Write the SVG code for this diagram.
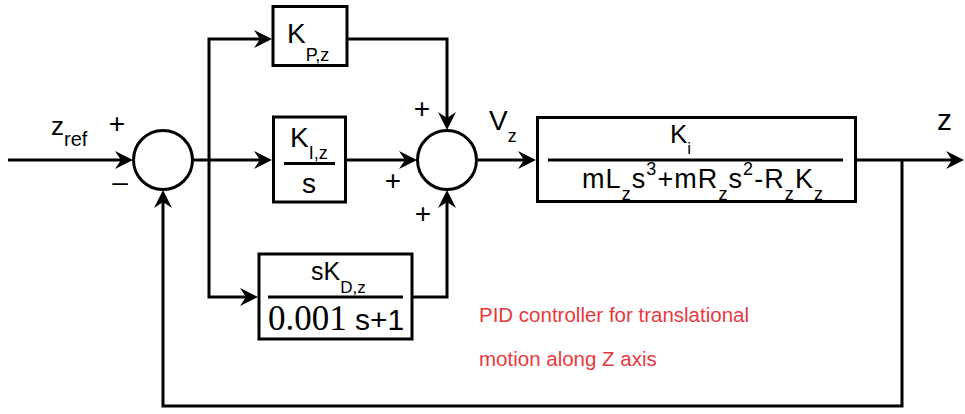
<svg xmlns="http://www.w3.org/2000/svg" width="965" height="414" viewBox="0 0 965 414">
<style>
  .ln { fill: none; stroke: #000; stroke-width: 3; }
  .box { fill: #fff; stroke: #000; stroke-width: 3; }
  .sum { fill: #fff; stroke: #000; stroke-width: 3; }
  .bar { stroke: #000; stroke-width: 3; }
  .t { font-family: "Liberation Sans", Arial, sans-serif; fill: #000; }
  .serif { font-family: "Liberation Serif", "Times New Roman", serif; fill: #000; }
  .sign { font-family: "Liberation Sans", Arial, sans-serif; font-size: 28px; fill: #000; text-anchor: middle; }
  .note { font-family: "Liberation Sans", Arial, sans-serif; font-size: 20.5px; fill: #e8383d; }
</style>
<defs>
  <marker id="ah" viewBox="-19 -10 20 20" refX="-10" refY="0" markerWidth="20" markerHeight="20" markerUnits="userSpaceOnUse" orient="auto">
    <path d="M0,0 L-18,-9 L-12,0 L-18,9 Z" fill="#000"/>
  </marker>
</defs>
<rect width="965" height="414" fill="#fff"/>

<g id="connectors" class="ln">
  <path d="M8,160 H123" marker-end="url(#ah)"/>
  <path d="M192,160 H262" marker-end="url(#ah)"/>
  <path d="M209,160 V39 H262" marker-end="url(#ah)"/>
  <path d="M209,160 V297 H248" marker-end="url(#ah)"/>
  <path d="M347,39 H447 V120" marker-end="url(#ah)"/>
  <path d="M347,160 H407" marker-end="url(#ah)"/>
  <path d="M412,297 H447 V200" marker-end="url(#ah)"/>
  <path d="M477,160 H526" marker-end="url(#ah)"/>
  <path d="M856,160 H954" marker-end="url(#ah)"/>
  <path d="M902,160 V406 H163 V200" marker-end="url(#ah)"/>
</g>

<g id="zref-label">
  <text class="t" x="51" y="135" font-size="26">z<tspan font-size="20" dy="11">ref</tspan></text>
</g>

<g id="sum1">
  <circle class="sum" cx="163" cy="160" r="29.5"/>
  <text class="sign" x="117" y="133">+</text>
  <text class="sign" x="120" y="191" font-size="24">–</text>
</g>

<g id="kp">
  <rect class="box" x="273" y="6.5" width="74" height="59"/>
  <text class="t" x="287" y="43" font-size="28">K<tspan font-size="18" dy="18">P,z</tspan></text>
</g>

<g id="ki">
  <rect class="box" x="273.5" y="117" width="72" height="85"/>
  <text class="t" x="290" y="147" font-size="28">K<tspan font-size="18" dy="12">I,z</tspan></text>
  <line class="bar" x1="284" y1="163.5" x2="335" y2="163.5"/>
  <text class="t" x="309" y="193" font-size="28" text-anchor="middle">s</text>
</g>

<g id="kd">
  <rect class="box" x="259" y="254" width="153" height="85"/>
  <text class="t" x="311" y="280" font-size="25">sK<tspan font-size="17" dy="13">D,z</tspan></text>
  <line class="bar" x1="268" y1="297" x2="403" y2="297"/>
  <text class="serif" x="268" y="330" font-size="35">0.001</text>
  <text class="t" x="355" y="330" font-size="30">s+1</text>
</g>

<g id="sum2">
  <circle class="sum" cx="447" cy="160" r="29.5"/>
  <text class="sign" x="422" y="118">+</text>
  <text class="sign" x="393" y="190">+</text>
  <text class="sign" x="423" y="223">+</text>
</g>

<g id="vz-label">
  <text class="t" x="489" y="130" font-size="28">V<tspan font-size="18" dy="12">z</tspan></text>
</g>

<g id="plant">
  <rect class="box" x="537.5" y="117.5" width="318" height="84"/>
  <text class="t" x="670" y="143" font-size="26">K<tspan font-size="17" dy="11">i</tspan></text>
  <line class="bar" x1="548" y1="160" x2="843" y2="160"/>
  <text class="t" x="582" y="188" font-size="27" textLength="241" lengthAdjust="spacing">mL<tspan font-size="18" dy="12">z</tspan><tspan dy="-12">s</tspan><tspan font-size="18" dy="-13">3</tspan><tspan dy="13">+mR</tspan><tspan font-size="18" dy="12">z</tspan><tspan dy="-12">s</tspan><tspan font-size="18" dy="-13">2</tspan><tspan dy="13">-R</tspan><tspan font-size="18" dy="12">z</tspan><tspan dy="-12">K</tspan><tspan font-size="18" dy="12">z</tspan></text>
</g>

<g id="z-label">
  <text class="t" x="937" y="130" font-size="30">z</text>
</g>

<g id="note">
  <text class="note" x="479" y="322">PID controller for translational</text>
  <text class="note" x="479" y="366">motion along Z axis</text>
</g>
</svg>
